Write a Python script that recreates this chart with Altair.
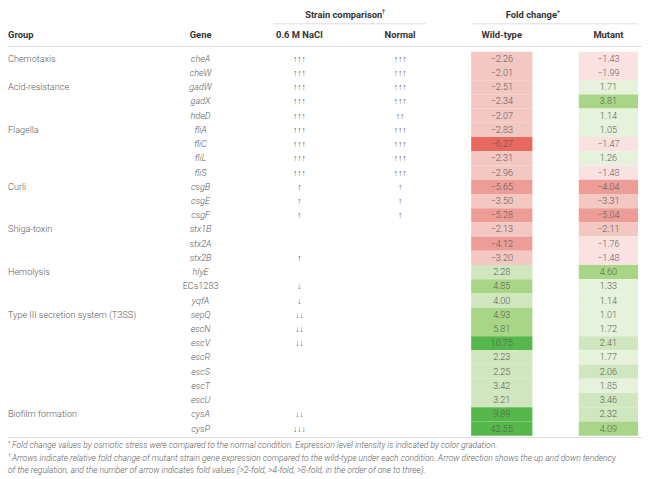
import altair as alt
import pandas as pd

groups = ["Chemotaxis", "", "Acid-resistance", "", "", "Flagella", "", "", "", "Curli", "", "",
          "Shiga-toxin", "", "", "Hemolysis", "", "", "Type III secretion system (T3SS)", "", "", "", "", "", "",
          "Biofilm formation", ""]
genes = ["cheA", "cheW", "gadW", "gadX", "hdeD", "fliA", "fliC", "fliL", "fliS", "csgB", "csgE", "csgF",
         "stx1B", "stx2A", "stx2B", "hlyE", "ECs1283", "yqfA", "sepQ", "escN", "escV", "escR", "escS", "escT",
         "escU", "cysA", "cysP"]
nacl = ["↑↑↑"] * 9 + ["↑", "↑", "↑", "", "", "↑", "", "↓", "↓", "↓↓", "↓↓", "↓↓", "", "", "", "", "↓↓", "↓↓↓"]
normal = ["↑↑↑", "↑↑↑", "↑↑↑", "↑↑↑", "↑↑", "↑↑↑", "↑↑↑", "↑↑↑", "↑↑↑", "↑", "↑", "↑"] + [""] * 15
wild_type = [-2.26, -2.01, -2.51, -2.34, -2.07, -2.83, -6.27, -2.31, -2.96, -5.65, -3.50, -5.28, -2.13, -4.12,
             -3.20, 2.28, 4.85, 4.00, 4.93, 5.81, 10.75, 2.23, 2.25, 3.42, 3.21, 9.89, 42.55]
mutant = [-1.43, -1.99, 1.71, 3.81, 1.14, 1.05, -1.47, 1.26, -1.48, -4.04, -3.31, -5.04, -2.11, -1.76, -1.48,
          4.60, 1.33, 1.14, 1.01, 1.72, 2.41, 1.77, 2.06, 1.85, 3.46, 2.32, 4.09]
italic_gene = [g != "ECs1283" for g in genes]

footnote_marks = ["*", "†", ""]
footnotes = [
    "Fold change values by osmotic stress were compared to the normal condition. Expression level intensity is indicated by color gradation.",
    "Arrows indicate relative fold change of mutant strain gene expression compared to the wild-type under each condition. Arrow direction shows the up and down tendency",
    "of the regulation, and the number of arrow indicates fold values (>2-fold, >4-fold, >8-fold, in the order of one to three).",
]

df = pd.DataFrame({
    "idx": list(range(len(genes))),
    "group": groups, "gene": genes, "nacl": nacl, "normal": normal,
    "wt": wild_type, "mut": mutant, "italic": italic_gene,
})

FONT = "Roboto"
TXT = "#5a5a5a"
HDR = "#333333"
FS = 9.2

yscale = alt.Scale(domain=[0, 27], range=[41.3, 430.1], nice=False, zero=False)

base = alt.Chart(df).transform_calculate(
    y0="datum.idx", y1="datum.idx + 1", ym="datum.idx + 0.5",
    wtl="replace(format(datum.wt, '.2f'), '-', '−')",
    mul="replace(format(datum.mut, '.2f'), '-', '−')",
)

wt_scale = alt.Scale(type="threshold", domain=[-6, -4, 0, 4.5, 8],
                     range=["#e8695f", "#ee9d96", "#f3c7c2", "#cfe6be", "#a9d587", "#56b84b"])
mut_scale = alt.Scale(type="threshold", domain=[-4, -2, 0, 2, 3.6],
                      range=["#ee9d96", "#f3c7c2", "#fae2e3", "#e6f2dc", "#cfe6be", "#a9d587"])

Y = alt.Y("y0:Q", scale=yscale, axis=None)
YM = alt.Y("ym:Q", scale=yscale, axis=None)

wt_rect = base.mark_rect().encode(
    x=alt.value(469), x2=alt.value(531), y=Y, y2="y1:Q",
    color=alt.Color("wt:Q", scale=wt_scale, legend=None))
mut_rect = base.mark_rect().encode(
    x=alt.value(578), x2=alt.value(638), y=Y, y2="y1:Q",
    color=alt.Color("mut:Q", scale=mut_scale, legend=None))

def txt(**kw):
    d = dict(font=FONT, fontSize=FS, color=TXT, baseline="middle", fontWeight=300)
    d.update(kw)
    return d

group_t = base.mark_text(**txt(align="left")).encode(x=alt.value(0), y=YM, text="group:N")
gene_i = base.transform_filter("datum.italic").mark_text(**txt(align="center", fontStyle="italic")).encode(
    x=alt.value(195), y=YM, text="gene:N")
gene_n = base.transform_filter("!datum.italic").mark_text(**txt(align="center")).encode(
    x=alt.value(195), y=YM, text="gene:N")
nacl_t = base.mark_text(**txt(align="center", fontSize=8.5)).encode(x=alt.value(295), y=YM, text="nacl:N")
norm_t = base.mark_text(**txt(align="center", fontSize=8.5)).encode(x=alt.value(397), y=YM, text="normal:N")
wt_t = base.mark_text(**txt(align="center")).encode(x=alt.value(500), y=YM, text="wtl:N")
mut_t = base.mark_text(**txt(align="center")).encode(x=alt.value(608), y=YM, text="mul:N")

one = alt.Chart(pd.DataFrame({"k": [0]}))

def htext(label, x, y, align="center", **kw):
    d = dict(font=FONT, fontSize=9.5, color=HDR, fontWeight="bold", align=align, baseline="middle")
    d.update(kw)
    return one.mark_text(**d).encode(x=alt.value(x), y=alt.value(y), text=alt.value(label))

def hline(x1, x2, y, color="#dddddd"):
    return one.mark_rule(color=color, strokeWidth=1).encode(x=alt.value(x1), x2=alt.value(x2), y=alt.value(y))

headers = [
    htext("Strain comparison", 340, 4),
    htext("†", 378.5, 1.5, align="left", fontSize=6.5, fontWeight="normal"),
    htext("Fold change", 530, 4),
    htext("*", 556, 2, align="left", fontSize=7, fontWeight="normal"),
    htext("Group", 0, 24, align="left"),
    htext("Gene", 195, 24),
    htext("0.6 M NaCl", 295, 24),
    htext("Normal", 397, 24),
    htext("Wild-type", 500, 24),
    htext("Mutant", 608, 24),
    hline(269, 423, 13),
    hline(470, 637, 13),
    hline(0, 642, 36),
    hline(0, 642, 432),
]

notes = []
for i, (m, n) in enumerate(zip(footnote_marks, footnotes)):
    y = 440 + 12.5 * i
    if m:
        notes.append(one.mark_text(font=FONT, fontSize=6, fontWeight=300, color=TXT,
                                   align="left", baseline="middle").encode(
            x=alt.value(0), y=alt.value(y - 2.5), text=alt.value(m)))
    notes.append(one.mark_text(font=FONT, fontSize=8.6, fontStyle="italic", fontWeight=300, color=TXT,
                               align="left", baseline="middle").encode(
        x=alt.value(4 if m else 0), y=alt.value(y), text=alt.value(n)))

chart = alt.layer(
    wt_rect, mut_rect, group_t, gene_i, gene_n, nacl_t, norm_t, wt_t, mut_t, *headers, *notes
).resolve_scale(color="independent").properties(
    width=642, height=471, padding=0, autosize=alt.AutoSizeParams(type="none")
).configure_view(stroke=None)

chart.save("out.html", embed_options={"renderer": "svg", "actions": False})
